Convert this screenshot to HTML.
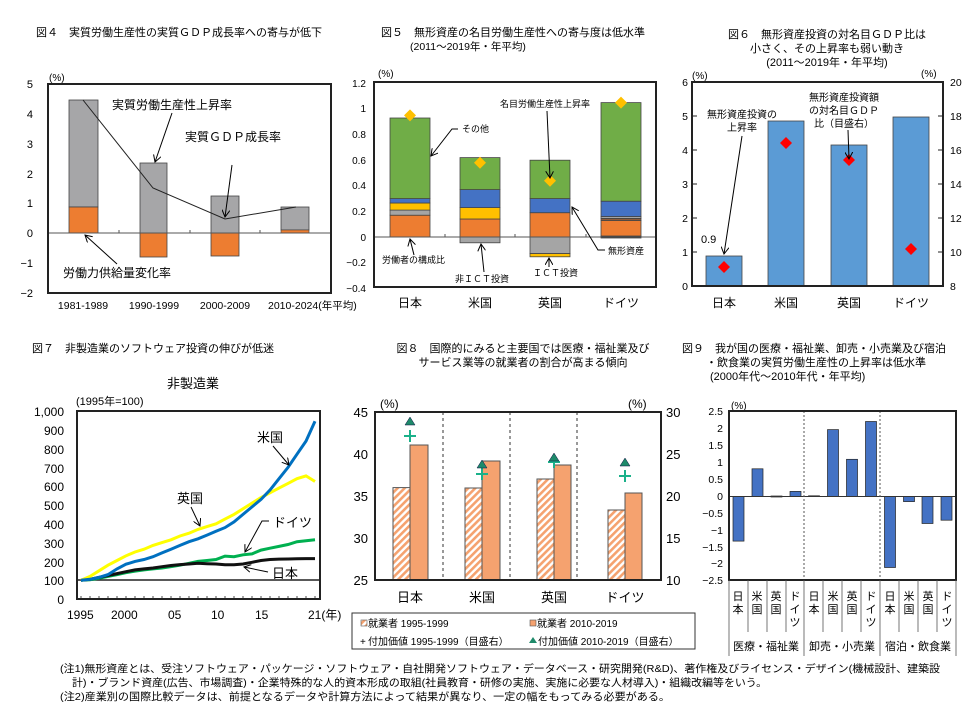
<!DOCTYPE html>
<html><head><meta charset="utf-8"><style>body{margin:0;background:#fff}svg{display:block}text{font-family:"Liberation Sans","Noto Sans CJK JP",sans-serif;fill:#000}</style></head><body>
<svg width="971" height="706" viewBox="0 0 971 706" xmlns="http://www.w3.org/2000/svg">
<defs>
<marker id="ar" markerWidth="8" markerHeight="8" refX="7" refY="4" orient="auto" markerUnits="userSpaceOnUse"><path d="M0,0L7,4L0,8" fill="none" stroke="#000" stroke-width="1"/></marker>
<pattern id="hat" width="5" height="5" patternUnits="userSpaceOnUse" patternTransform="rotate(45)"><rect width="5" height="5" fill="#fff"/><rect width="2.6" height="5" fill="#F5A26F"/></pattern>
</defs>
<!-- FIG 4 -->
<text x="36" y="36" font-size="11">図４　実質労働生産性の実質ＧＤＰ成長率への寄与が低下</text>
<g font-size="11" text-anchor="end"><text x="33" y="88">5</text><text x="33" y="118">4</text><text x="33" y="148">3</text><text x="33" y="178">2</text><text x="33" y="207">1</text><text x="33" y="237">0</text><text x="33" y="267">−1</text><text x="33" y="297">−2</text></g>
<text x="49" y="81" font-size="10">(%)</text>
<rect x="69" y="100" width="29" height="107" fill="#A6A6A8" stroke="#444" stroke-width="0.8"/>
<rect x="69" y="207" width="29" height="26" fill="#ED7D31" stroke="#444" stroke-width="0.8"/>
<rect x="140" y="163" width="27" height="70" fill="#A6A6A8" stroke="#444" stroke-width="0.8"/>
<rect x="140" y="233" width="27" height="24" fill="#ED7D31" stroke="#444" stroke-width="0.8"/>
<rect x="211" y="196" width="28" height="37" fill="#A6A6A8" stroke="#444" stroke-width="0.8"/>
<rect x="211" y="233" width="28" height="23" fill="#ED7D31" stroke="#444" stroke-width="0.8"/>
<rect x="281" y="207" width="28" height="23" fill="#A6A6A8" stroke="#444" stroke-width="0.8"/>
<rect x="281" y="230" width="28" height="3" fill="#ED7D31" stroke="#444" stroke-width="0.6"/>
<line x1="48" y1="233" x2="331" y2="233" stroke="#555" stroke-width="1"/>
<g stroke="#555"><line x1="119" y1="230" x2="119" y2="233"/><line x1="190" y1="230" x2="190" y2="233"/><line x1="260" y1="230" x2="260" y2="233"/></g>
<polyline points="83,100 153,188 225,219 296,207" fill="none" stroke="#222" stroke-width="1"/>
<rect x="48" y="84" width="283" height="209" fill="none" stroke="#222" stroke-width="2"/>
<text x="112" y="109" font-size="12">実質労働生産性上昇率</text>
<line x1="172" y1="113" x2="155" y2="162" stroke="#000" marker-end="url(#ar)"/>
<text x="185" y="141" font-size="12">実質ＧＤＰ成長率</text>
<line x1="232" y1="165" x2="225" y2="217" stroke="#000" marker-end="url(#ar)"/>
<text x="63" y="277" font-size="12">労働力供給量変化率</text>
<line x1="117" y1="264" x2="85" y2="235" stroke="#000" marker-end="url(#ar)"/>
<g font-size="10.5" text-anchor="middle"><text x="83" y="309">1981-1989</text><text x="154" y="309">1990-1999</text><text x="225" y="309">2000-2009</text></g>
<text x="268" y="309" font-size="10.5">2010-2024(年平均)</text>

<!-- FIG 5 -->
<text x="381" y="36" font-size="11">図５　無形資産の名目労働生産性への寄与度は低水準</text>
<text x="410" y="50" font-size="10.5">(2011～2019年・年平均)</text>
<g font-size="10" text-anchor="end"><text x="366" y="87">1.2</text><text x="366" y="112">1</text><text x="366" y="138">0.8</text><text x="366" y="164">0.6</text><text x="366" y="189">0.4</text><text x="366" y="215">0.2</text><text x="366" y="241">0</text><text x="366" y="266">−0.2</text><text x="366" y="292">−0.4</text></g>
<text x="378" y="77" font-size="10">(%)</text>
<g stroke="#444" stroke-width="0.8">
<rect x="390" y="215.2" width="40" height="21.8" fill="#ED7D31"/><rect x="390" y="210.1" width="40" height="5.1" fill="#A5A5A5"/><rect x="390" y="203" width="40" height="7.1" fill="#FFC000"/><rect x="390" y="198.6" width="40" height="4.4" fill="#4472C4"/><rect x="390" y="118" width="40" height="80.6" fill="#70AD47"/>
<rect x="460" y="237" width="40" height="5.8" fill="#A5A5A5"/><rect x="460" y="219" width="40" height="18" fill="#ED7D31"/><rect x="460" y="207.6" width="40" height="11.4" fill="#FFC000"/><rect x="460" y="189.6" width="40" height="18" fill="#4472C4"/><rect x="460" y="157.6" width="40" height="32" fill="#70AD47"/>
<rect x="530" y="212.7" width="40" height="24.3" fill="#ED7D31"/><rect x="530" y="198.6" width="40" height="14.1" fill="#4472C4"/><rect x="530" y="160.2" width="40" height="38.4" fill="#70AD47"/><rect x="530" y="237" width="40" height="16.6" fill="#A5A5A5"/><rect x="530" y="253.6" width="40" height="3.2" fill="#FFC000"/>
<rect x="601" y="220.4" width="40" height="16.6" fill="#ED7D31"/><rect x="601" y="218.4" width="40" height="2" fill="#8B5A3C"/><rect x="601" y="216.5" width="40" height="1.9" fill="#A5A5A5"/><rect x="601" y="201.2" width="40" height="15.3" fill="#4472C4"/><rect x="601" y="102.6" width="40" height="98.6" fill="#70AD47"/><rect x="601" y="236" width="40" height="2" fill="#222"/>
</g>
<line x1="374" y1="237" x2="656" y2="237" stroke="#555"/>
<g stroke="#555"><line x1="445" y1="234" x2="445" y2="237"/><line x1="515" y1="234" x2="515" y2="237"/><line x1="586" y1="234" x2="586" y2="237"/></g>
<g fill="#FFC000"><path d="M410,109.4l6,6l-6,6l-6,-6z"/><path d="M480,156.8l6,6l-6,6l-6,-6z"/><path d="M550,174.7l6,6l-6,6l-6,-6z"/><path d="M621,96.6l6,6l-6,6l-6,-6z"/></g>
<rect x="374" y="82" width="282" height="205" fill="none" stroke="#222" stroke-width="2"/>
<g font-size="9">
<text x="462" y="132">その他</text><polyline points="458,129 452,129 431,156" fill="none" stroke="#000" marker-end="url(#ar)"/>
<text x="500" y="107">名目労働生産性上昇率</text><line x1="547" y1="111" x2="550" y2="178" stroke="#000" marker-end="url(#ar)"/>
<text x="608" y="254">無形資産</text><polyline points="605,250 598,250 572,207" fill="none" stroke="#000" marker-end="url(#ar)"/>
<text x="382" y="263">労働者の構成比</text><line x1="414" y1="255" x2="410" y2="239" stroke="#000" marker-end="url(#ar)"/>
<text x="455" y="282">非ＩＣＴ投資</text><line x1="484" y1="272" x2="481" y2="244" stroke="#000" marker-end="url(#ar)"/>
<text x="533" y="276">ＩＣＴ投資</text><line x1="549" y1="267" x2="549" y2="258" stroke="#000" marker-end="url(#ar)"/>
</g>
<g font-size="12" text-anchor="middle"><text x="410" y="307">日本</text><text x="480" y="307">米国</text><text x="550" y="307">英国</text><text x="621" y="307">ドイツ</text></g>

<!-- FIG 6 -->
<g font-size="11" text-anchor="middle"><text x="827" y="38">図６　無形資産投資の対名目ＧＤＰ比は</text><text x="827" y="52">小さく、その上昇率も弱い動き</text><text x="827" y="66">(2011～2019年・年平均)</text></g>
<g font-size="10.5" text-anchor="end"><text x="688" y="86">6</text><text x="688" y="120">5</text><text x="688" y="154">4</text><text x="688" y="188">3</text><text x="688" y="222">2</text><text x="688" y="256">1</text><text x="688" y="290">0</text></g>
<g font-size="10.5"><text x="950" y="86">20</text><text x="950" y="120">18</text><text x="950" y="154">16</text><text x="950" y="188">14</text><text x="950" y="222">12</text><text x="950" y="256">10</text><text x="950" y="290">8</text></g>
<text x="692" y="79" font-size="10">(%)</text><text x="921" y="77" font-size="10">(%)</text>
<g fill="#5B9BD5" stroke="#444" stroke-width="0.8"><rect x="706" y="256" width="36" height="30"/><rect x="768" y="121" width="36" height="165"/><rect x="831" y="145" width="36" height="141"/><rect x="893" y="117" width="36" height="169"/></g>
<g fill="#FF0000"><path d="M724,261l6,6l-6,6l-6,-6z"/><path d="M786,137l6,6l-6,6l-6,-6z"/><path d="M849,154l6,6l-6,6l-6,-6z"/><path d="M911,243l6,6l-6,6l-6,-6z"/></g>
<g stroke="#222"><line x1="692" y1="116" x2="697" y2="116"/><line x1="692" y1="150" x2="697" y2="150"/><line x1="692" y1="184" x2="697" y2="184"/><line x1="692" y1="218" x2="697" y2="218"/><line x1="692" y1="252" x2="697" y2="252"/><line x1="938" y1="116" x2="943" y2="116"/><line x1="938" y1="150" x2="943" y2="150"/><line x1="938" y1="184" x2="943" y2="184"/><line x1="938" y1="218" x2="943" y2="218"/><line x1="938" y1="252" x2="943" y2="252"/></g>
<rect x="692" y="82" width="251" height="204" fill="none" stroke="#222" stroke-width="2"/>
<g font-size="10" text-anchor="middle"><text x="742" y="118">無形資産投資の</text><text x="742" y="131">上昇率</text><text x="844" y="101">無形資産投資額</text><text x="844" y="114">の対名目ＧＤＰ</text><text x="844" y="127">比（目盛右）</text></g>
<line x1="742" y1="136" x2="724" y2="254" stroke="#000" marker-end="url(#ar)"/>
<line x1="848" y1="130" x2="849" y2="159" stroke="#000" marker-end="url(#ar)"/>
<text x="701" y="243" font-size="11">0.9</text>
<g font-size="12" text-anchor="middle"><text x="724" y="307">日本</text><text x="786" y="307">米国</text><text x="849" y="307">英国</text><text x="911" y="307">ドイツ</text></g>

<!-- FIG 7 -->
<text x="32" y="352" font-size="11">図７　非製造業のソフトウェア投資の伸びが低迷</text>
<text x="193" y="388" font-size="13" text-anchor="middle">非製造業</text>
<text x="76" y="405" font-size="11">(1995年=100)</text>
<g font-size="12" text-anchor="end"><text x="64" y="416">1,000</text><text x="64" y="435">900</text><text x="64" y="454">800</text><text x="64" y="473">700</text><text x="64" y="491">600</text><text x="64" y="510">500</text><text x="64" y="529">400</text><text x="64" y="548">300</text><text x="64" y="567">200</text><text x="64" y="585">100</text><text x="64" y="604">0</text></g>
<line x1="77" y1="580" x2="320" y2="580" stroke="#222" stroke-width="1.5"/>
<g stroke="#222" stroke-width="0.8"><path d="M81,596v3M90,596v3M99,596v3M108,596v3M117,596v3M126,596v3M135,596v3M144,596v3M153,596v3M162,596v3M171,596v3M180,596v3M189,596v3M198,596v3M207,596v3M216,596v3M225,596v3M234,596v3M243,596v3M252,596v3M261,596v3M270,596v3M279,596v3M288,596v3M297,596v3M306,596v3M315,596v3"/></g>
<polyline fill="none" stroke="#00B050" stroke-width="3" points="81,580.2 90,579.8 99,578.3 108,576.4 117,574.6 126,572.7 135,571.2 144,569.9 153,568.9 162,568 171,566.7 180,565.2 189,563.3 198,561.4 207,560.5 216,559.5 225,556.1 234,556.7 243,554.8 252,553.9 261,550.1 270,548.2 279,546.4 288,544.5 297,541.7 306,540.7 315,539.8"/>
<polyline fill="none" stroke="#111" stroke-width="3" points="81,580.2 90,579.3 99,577.4 108,575.5 117,573.6 126,571.7 135,569.9 144,568.9 153,568 162,566.7 171,565.5 180,564.6 189,564 198,563.3 207,563.7 216,564 225,564.8 234,564.8 243,564 252,562.3 261,560.5 270,559.5 279,559.1 288,559 297,558.8 306,558.6 315,558.6"/>
<polyline fill="none" stroke="#FFFF00" stroke-width="3" points="81,580.2 90,576.4 99,570.8 108,565.2 117,560.5 126,555.8 135,552 144,549.2 153,545.4 162,542.6 171,539.8 180,536 189,533.2 198,529.4 207,526.6 216,523.8 225,519.1 234,514.4 243,508.8 252,503.1 261,497.5 270,492.8 279,488.1 288,483.4 297,478.7 306,475.9 315,481.5"/>
<polyline fill="none" stroke="#0070C0" stroke-width="3" points="81,580.2 90,579.3 99,577.4 108,574.6 117,568.9 126,564.2 135,561.4 144,559.5 153,556.7 162,552.9 171,549.2 180,545.4 189,541.7 198,538.8 207,535.1 216,531.3 225,527.6 234,521.9 243,514.4 252,506.9 261,499.4 270,490 279,478.7 288,467.4 297,454.2 306,441.1 315,421.3"/>
<rect x="77" y="411" width="243" height="188" fill="none" stroke="#222" stroke-width="2"/>
<g font-size="13"><text x="257" y="442">米国</text><text x="177" y="503">英国</text><text x="273" y="527">ドイツ</text><text x="272" y="578">日本</text></g>
<g stroke="#000" fill="none"><line x1="273" y1="446" x2="289" y2="465" marker-end="url(#ar)"/><line x1="191" y1="507" x2="200" y2="526" marker-end="url(#ar)"/><polyline points="269,521 262,521 245,552" marker-end="url(#ar)"/><line x1="268" y1="572" x2="244" y2="567" marker-end="url(#ar)"/></g>
<g font-size="12"><text x="67" y="619">1995</text><text x="111" y="619">2000</text><text x="168" y="619">05</text><text x="211" y="619">10</text><text x="255" y="619">15</text><text x="308" y="619">21(年)</text></g>

<!-- FIG 8 -->
<g font-size="11" text-anchor="middle"><text x="523" y="352">図８　国際的にみると主要国では医療・福祉業及び</text><text x="523" y="366">サービス業等の就業者の割合が高まる傾向</text></g>
<g font-size="13" text-anchor="end"><text x="368" y="417">45</text><text x="368" y="459">40</text><text x="368" y="501">35</text><text x="368" y="543">30</text><text x="368" y="585">25</text></g>
<g font-size="13"><text x="666" y="417">30</text><text x="666" y="459">25</text><text x="666" y="501">20</text><text x="666" y="543">15</text><text x="666" y="585">10</text></g>
<text x="380" y="408" font-size="12">(%)</text><text x="628" y="408" font-size="12">(%)</text>
<g stroke="#555" stroke-width="1"><rect x="393" y="487.6" width="17" height="92.4" fill="url(#hat)"/><rect x="410" y="445" width="18" height="135" fill="#F5A26F"/><rect x="465" y="488" width="17" height="92" fill="url(#hat)"/><rect x="482" y="461" width="18" height="119" fill="#F5A26F"/><rect x="537" y="479" width="17" height="101" fill="url(#hat)"/><rect x="554" y="465" width="17" height="115" fill="#F5A26F"/><rect x="608" y="510" width="17" height="70" fill="url(#hat)"/><rect x="625" y="493" width="17" height="87" fill="#F5A26F"/></g>
<g stroke="#333" stroke-dasharray="3,3"><line x1="443" y1="412" x2="443" y2="580"/><line x1="510" y1="412" x2="510" y2="580"/><line x1="577" y1="412" x2="577" y2="580"/></g>
<g fill="#00A087" stroke="#1a6" stroke-width="0"><path d="M404,436h12M410,430v12" stroke="#1BB18A" stroke-width="2"/><path d="M476,474h12M482,468v12" stroke="#1BB18A" stroke-width="2"/><path d="M548,462h12M554,456v12" stroke="#1BB18A" stroke-width="2"/><path d="M619,476h12M625,470v12" stroke="#1BB18A" stroke-width="2"/></g>
<g fill="#1E8A6A" stroke="#114" stroke-width="0.5"><path d="M410,417l5,8h-10z"/><path d="M482,460l5,8h-10z"/><path d="M554,453l5,8h-10z"/><path d="M625,458l5,8h-10z"/></g>
<rect x="375" y="412" width="286" height="168" fill="none" stroke="#222" stroke-width="2"/>
<g font-size="13" text-anchor="middle"><text x="410" y="602">日本</text><text x="482" y="602">米国</text><text x="554" y="602">英国</text><text x="625" y="602">ドイツ</text></g>
<rect x="352" y="613" width="343" height="36" fill="#fff" stroke="#333" stroke-width="1"/>
<g font-size="10"><rect x="361" y="620" width="6" height="6" fill="url(#hat)" stroke="#555" stroke-width="0.6"/><text x="368" y="627">就業者 1995-1999</text><rect x="530" y="620" width="6" height="6" fill="#F5A26F" stroke="#555" stroke-width="0.6"/><text x="537" y="627">就業者 2010-2019</text>
<text x="360" y="645" fill="#1BB18A">+</text><text x="368" y="645">付加価値 1995-1999（目盛右）</text><path d="M533,637l4,6h-8z" fill="#1E8A6A"/><text x="538" y="645">付加価値 2010-2019（目盛右）</text></g>

<!-- FIG 9 -->
<g font-size="11"><text x="682" y="352">図９　我が国の医療・福祉業、卸売・小売業及び宿泊</text><text x="706" y="366">・飲食業の実質労働生産性の上昇率は低水準</text><text x="710" y="380">(2000年代～2010年代・年平均)</text></g>
<g font-size="10.5" text-anchor="end"><text x="723" y="415">2.5</text><text x="723" y="432">2</text><text x="723" y="449">1.5</text><text x="723" y="466">1</text><text x="723" y="483">0.5</text><text x="723" y="500">0</text><text x="723" y="517">−0.5</text><text x="723" y="534">−1</text><text x="723" y="551">−1.5</text><text x="723" y="567">−2</text><text x="723" y="584">−2.5</text></g>
<text x="731" y="409" font-size="10">(%)</text>
<g fill="#4472C4" stroke="#222" stroke-width="0.7"><rect x="733" y="496.5" width="11" height="44.6"/><rect x="752" y="468.8" width="11" height="27.7"/><rect x="771" y="496" width="11" height="1"/><rect x="790" y="491.4" width="11" height="5.1"/><rect x="808.5" y="495.8" width="11" height="0.7"/><rect x="827.5" y="429.6" width="11" height="66.9"/><rect x="846.5" y="459.3" width="11" height="37.2"/><rect x="865.5" y="421.5" width="11" height="75"/><rect x="884.5" y="496.5" width="11" height="71"/><rect x="903.5" y="496.5" width="11" height="5.1"/><rect x="922" y="496.5" width="11" height="27"/><rect x="941" y="496.5" width="11" height="23.7"/></g>
<line x1="729" y1="496.5" x2="956" y2="496.5" stroke="#333"/>
<g stroke="#555" stroke-dasharray="2,2"><line x1="804" y1="411" x2="804" y2="580"/><line x1="880" y1="411" x2="880" y2="580"/></g>
<rect x="729" y="411" width="227" height="169" fill="none" stroke="#222" stroke-width="2"/>
<g stroke="#555" stroke-width="0.8"><path d="M748,580v52M767,580v52M786,580v52M823,580v52M842,580v52M861,580v52M899,580v52M918,580v52M937,580v52M729,580v76M804,580v76M880,580v76M956,580v76"/></g>
<g font-size="11" text-anchor="middle">
<text x="738" y="600">日</text><text x="738" y="613">本</text><text x="757" y="600">米</text><text x="757" y="613">国</text><text x="776" y="600">英</text><text x="776" y="613">国</text><text x="795" y="600">ド</text><text x="795" y="613">イ</text><text x="795" y="626">ツ</text>
<text x="814" y="600">日</text><text x="814" y="613">本</text><text x="833" y="600">米</text><text x="833" y="613">国</text><text x="852" y="600">英</text><text x="852" y="613">国</text><text x="871" y="600">ド</text><text x="871" y="613">イ</text><text x="871" y="626">ツ</text>
<text x="890" y="600">日</text><text x="890" y="613">本</text><text x="909" y="600">米</text><text x="909" y="613">国</text><text x="928" y="600">英</text><text x="928" y="613">国</text><text x="947" y="600">ド</text><text x="947" y="613">イ</text><text x="947" y="626">ツ</text>
<text x="766" y="650">医療・福祉業</text><text x="842" y="650">卸売・小売業</text><text x="918" y="650">宿泊・飲食業</text></g>

<!-- notes -->
<g font-size="10.5"><text x="60" y="672" textLength="880" lengthAdjust="spacingAndGlyphs">(注1)無形資産とは、受注ソフトウェア・パッケージ・ソフトウェア・自社開発ソフトウェア・データベース・研究開発(R&amp;D)、著作権及びライセンス・デザイン(機械設計、建築設</text>
<text x="72" y="686" textLength="695" lengthAdjust="spacingAndGlyphs">計)・ブランド資産(広告、市場調査)・企業特殊的な人的資本形成の取組(社員教育・研修の実施、実施に必要な人材導入)・組織改編等をいう。</text>
<text x="60" y="700" textLength="610" lengthAdjust="spacingAndGlyphs">(注2)産業別の国際比較データは、前提となるデータや計算方法によって結果が異なり、一定の幅をもってみる必要がある。</text></g>
</svg>
</body></html>
